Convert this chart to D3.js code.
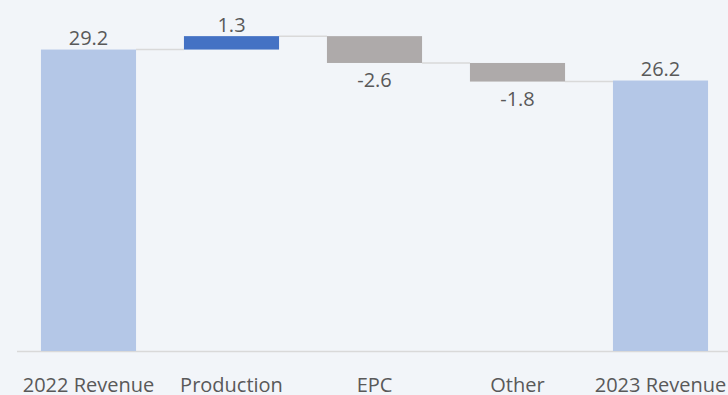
<!DOCTYPE html>
<html>
<head>
<meta charset="utf-8">
<script src="https://cdn.jsdelivr.net/npm/d3@7"></script>
<style>
  html, body { margin: 0; padding: 0; background: #f2f5f9; }
  svg { display: block; }
  text { font-family: "Open Sans", "Noto Sans", sans-serif; fill: #595959; }
</style>
</head>
<body>
<svg id="chart" width="728" height="395"></svg>
<script>
// Revenue bridge: 2022 -> 2023
const categories = ["2022 Revenue", "Production", "EPC", "Other", "2023 Revenue"];
const values = [29.2, 1.3, -2.6, -1.8, 26.2];
const kinds = ["total", "delta", "delta", "delta", "total"];

const W = 728, H = 395;
const colors = { total: "#b4c7e7", up: "#4472c4", down: "#aeaaaa" };
const fmt = d3.formatLocale({ decimal: ".", thousands: ",", grouping: [3], currency: ["", ""], minus: "-" }).format(".1f");

// Build start/end levels for each step of the bridge
let running = 0;
const steps = categories.map((c, i) => {
  let start, end;
  if (kinds[i] === "total") { start = 0; end = values[i]; running = values[i]; }
  else { start = running; end = running + values[i]; running = end; }
  return { cat: c, value: values[i], kind: kinds[i], start, end };
});

const svg = d3.select("#chart");

const x = d3.scaleBand().domain(categories).range([17, 732]).paddingInner(0.335).paddingOuter(0.1675);
const y = d3.scaleLinear().domain([0, 34]).range([351, 0]);

// Baseline axis
svg.append("line")
  .attr("x1", 17).attr("x2", W)
  .attr("y1", y(0) + 0.5).attr("y2", y(0) + 0.5)
  .attr("stroke", "#d9d9d9").attr("stroke-width", 1.5);

// Connectors between consecutive bars
steps.slice(0, -1).forEach((s, i) => {
  svg.append("line")
    .attr("x1", x(s.cat) + x.bandwidth())
    .attr("x2", x(categories[i + 1]))
    .attr("y1", y(s.end)).attr("y2", y(s.end))
    .attr("stroke", "#d9d9d9").attr("stroke-width", 1.5);
});

// Bars
svg.selectAll("rect.bar").data(steps).join("rect")
  .attr("class", "bar")
  .attr("x", d => x(d.cat))
  .attr("width", x.bandwidth())
  .attr("y", d => y(Math.max(d.start, d.end)))
  .attr("height", d => Math.abs(y(d.start) - y(d.end)))
  .attr("fill", d => d.kind === "total" ? colors.total : (d.value >= 0 ? colors.up : colors.down));

// Value labels
svg.selectAll("text.val").data(steps).join("text")
  .attr("class", "val")
  .attr("x", d => x(d.cat) + x.bandwidth() / 2)
  .attr("y", d => d.value >= 0 ? y(Math.max(d.start, d.end)) - 4.5 : y(Math.min(d.start, d.end)) + 24.5)
  .attr("text-anchor", "middle")
  .attr("font-size", 20)
  .text(d => fmt(d.value));

// Category labels
svg.selectAll("text.cat").data(categories).join("text")
  .attr("class", "cat")
  .attr("x", d => x(d) + x.bandwidth() / 2)
  .attr("y", 391.5)
  .attr("text-anchor", "middle")
  .attr("font-size", 20)
  .text(d => d);
</script>
</body>
</html>
